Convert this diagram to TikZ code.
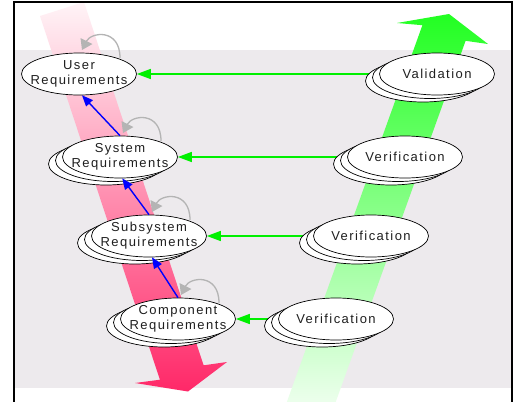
\documentclass[tikz,border=0pt]{standalone}
\usepackage{fontspec}
\setmainfont{Liberation Sans}[LetterSpace=11]
\usetikzlibrary{arrows.meta,shapes.geometric}
\pgfdeclarelayer{back}
\pgfdeclarelayer{conn}
\pgfsetlayers{back,conn,main}
\definecolor{bggrey}{HTML}{EDEAED}
\definecolor{linkgreen}{HTML}{00F000}
\definecolor{loopgrey}{HTML}{B4B4B4}
\definecolor{pinkA}{HTML}{FFF4F7}
\definecolor{pinkM}{HTML}{FFBACB}
\definecolor{pinkB}{HTML}{FF2868}
\definecolor{greenA}{HTML}{22FF22}
\definecolor{greenM}{HTML}{B0FFB0}
\definecolor{greenB}{HTML}{F4FFF4}
\newcommand\selfloopat[1]{%
  \draw[selfloop] ([shift={(41,-16)}]#1.center) .. controls ([shift={(41,-46)}]#1.center) and ([shift={(12,-42)}]#1.center) .. ([shift={(3,-24)}]#1.center);}
\begin{document}
\begin{tikzpicture}[x=1pt,y=-1pt,
  req/.style={ellipse, draw=black, line width=0.7pt, fill=white,
    minimum width=115pt, minimum height=42pt, inner sep=0pt},
  reqtext/.style={inner sep=0pt, align=center, text=black!88,
    font=\fontsize{13}{15}\selectfont},
  greenlink/.style={draw=linkgreen, line width=1.4pt, -{Triangle[length=14pt,width=10pt]}},
  bluelink/.style={draw=blue, line width=1.4pt, -{Triangle[length=11pt,width=9pt]}},
  selfloop/.style={draw=loopgrey, line width=1.3pt, -{Triangle[length=10pt,width=13pt]}},
]
\useasboundingbox (0,0) rectangle (520,402);
\clip (0,0) rectangle (520,402);

\begin{pgfonlayer}{back}
  \fill[white] (0,0) rectangle (520,402);
  \fill[bggrey] (15,50) rectangle (511,388);
  % pink down arrow
  \shade[top color=pinkA, middle color=pinkM, bottom color=pinkB]
    (40,16) -- (84,2) -- (203.6,365.3) -- (227,362) -- (188,391.5)
    -- (135,383) -- (159.9,379.7) -- cycle;
  % green up arrow
  \shade[top color=greenA, middle color=greenM, bottom color=greenB]
    (286.8,402.2) -- (422.4,25.2) -- (397,23) -- (449,14) -- (488,44)
    -- (465.6,40.8) -- (330,417.8) -- cycle;
\end{pgfonlayer}

% left column
\node[req] (ur) at (79,74) {};
\node[reqtext] (ur-t) at (ur.center) {User\\Requirements};

\node[req] (sr-b2) at (106,164) {};
\node[req] (sr-b1) at (113,160.5) {};
\node[req] (sr) at (120,157) {};
\node[reqtext] (sr-t) at (sr.center) {System\\Requirements};

\node[req] (ssr-b2) at (135,243) {};
\node[req] (ssr-b1) at (142,239.5) {};
\node[req] (ssr) at (149,236) {};
\node[reqtext] (ssr-t) at (ssr.center) {Subsystem\\Requirements};

\node[req] (cr-b2) at (164,326) {};
\node[req] (cr-b1) at (171,322.5) {};
\node[req] (cr) at (178,319) {};
\node[reqtext] (cr-t) at (cr.center) {Component\\Requirements};

% right column
\node[req] (val-b2) at (423,81) {};
\node[req] (val-b1) at (430,77.5) {};
\node[req] (val) at (437,74) {};
\node[reqtext] (val-t) at (val.center) {Validation};

\node[req] (ver1-b2) at (391,164) {};
\node[req] (ver1-b1) at (398,160.5) {};
\node[req] (ver1) at (405,157) {};
\node[reqtext] (ver1-t) at (ver1.center) {Verification};

\node[req] (ver2-b2) at (357,243) {};
\node[req] (ver2-b1) at (364,239.5) {};
\node[req] (ver2) at (371,236) {};
\node[reqtext] (ver2-t) at (ver2.center) {Verification};

\node[req] (ver3-b2) at (322,326) {};
\node[req] (ver3-b1) at (329,322.5) {};
\node[req] (ver3) at (336,319) {};
\node[reqtext] (ver3-t) at (ver3.center) {Verification};

% green links
\begin{pgfonlayer}{conn}
  \draw[greenlink] (val) -- (ur);
  \draw[greenlink] (ver1) -- (sr);
  \draw[greenlink] (ver2) -- (ssr);
  \draw[greenlink] (ver3) -- (cr);
\end{pgfonlayer}

% blue links
\draw[bluelink] (sr.north) -- (ur.-82);
\draw[bluelink] (ssr.north) -- (sr.-84);
\draw[bluelink] (cr.north) -- (ssr.-82);

% self loops
\selfloopat{ur}
\selfloopat{sr}
\selfloopat{ssr}
\selfloopat{cr}

% frame
\draw[line width=2.5pt] (14,410) -- (14,2) -- (512,2) -- (512,410);
\end{tikzpicture}
\end{document}
